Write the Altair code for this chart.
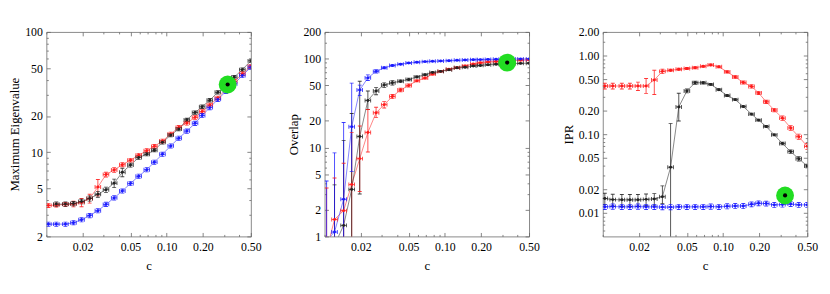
import altair as alt
import pandas as pd

# ---------------- data ----------------
c_vals = [0.0104, 0.0121, 0.0144, 0.0168, 0.0196, 0.0229, 0.0268, 0.0313, 0.0366, 0.0428,
          0.0500, 0.0585, 0.0683, 0.0789, 0.0922, 0.108, 0.126, 0.147, 0.172, 0.197,
          0.228, 0.266, 0.311, 0.364, 0.425, 0.500]

# Panel 1: Maximum Eigenvalue
eig_red = [3.62, 3.64, 3.69, 3.72, 3.83, 4.13, 5.14, 6.53, 7.13, 7.88, 8.60, 9.45, 10.3, 11.2,
           12.4, 14.2, 16.1, 17.5, 19.5, 21.8, 24.7, 28.3, 33.3, 38.8, 44.8, 51.8]
eig_red_err = [0.14, 0.14, 0.14, 0.2, 0.3, 0.35, 0.8, 0.3, 0.3, 0.3, 0.3, 0.35, 0.4, 0.4,
               0.45, 0.5, 0.6, 0.7, 0.75, 0.8, 0.9, 1.0, 1.2, 1.4, 1.7, 2.0]
eig_black = [None, 3.71, 3.71, 3.75, 3.90, 4.13, 4.48, 4.89, 5.54, 6.82, 7.83, 9.04, 9.63, 10.4,
             12.1, 13.9, 15.6, 18.6, 21.4, 23.9, 27.1, 31.5, 36.0, 42.1, 48.6, 57.5]
eig_black_err = [None, 0.15, 0.15, 0.15, 0.17, 0.2, 0.25, 0.25, 0.45, 0.55, 0.3, 0.3, 0.3, 0.3,
                 0.4, 0.45, 0.5, 0.6, 0.7, 0.8, 0.9, 1.0, 1.2, 1.4, 1.6, 1.9]
eig_blue = [2.53, 2.53, 2.53, 2.60, 2.75, 2.98, 3.27, 3.69, 4.18, 4.77, 5.51, 6.33, 7.17, 8.28,
            9.63, 11.3, 13.1, 15.0, 17.4, 20.2, 23.5, 27.5, 32.1, 37.1, 43.4, 50.8]
eig_blue_err = [0.10, 0.10, 0.10, 0.10, 0.11, 0.12, 0.13, 0.15, 0.17, 0.19, 0.22, 0.25, 0.29, 0.33,
                0.38, 0.45, 0.52, 0.6, 0.7, 0.8, 0.94, 1.1, 1.3, 1.5, 1.7, 2.0]

# Panel 2: Overlap
ov_red = [0.7, 1.55, 1.95, 3.83, 7.5, 14.8, 24.6, 30.4, 37.5, 44.4, 50.0, 56.3, 60.5, 67.0,
          72.0, 76.0, 79.0, 83.0, 87.0, 90.0, 92.0, 93.0, 94.0, 95.0, 96.0, 96.5]
ov_red_up = [2.8, 3.0, 4.7, 11.0, 10.0, 12.0, 3.8, 2.5, 2.0, 2.0, 2.0, 1.5, 1.5, 1.5,
             1.5, 1.5, 1.5, 1.5, 1.5, 1.5, 1.5, 1.5, 1.5, 1.5, 1.5, 1.5]
ov_red_dn = [0.7, 1.5, 1.9, 3.8, 4.3, 5.9, 2.9, 2.5, 2.0, 2.0, 2.0, 1.5, 1.5, 1.5,
             1.5, 1.5, 1.5, 1.5, 1.5, 1.5, 1.5, 1.5, 1.5, 1.5, 1.5, 1.5]
ov_black = [None, 0.8, 1.33, 3.38, 13.3, 33.9, 43.3, 50.5, 53.5, 55.8, 58.4, 62.3, 66.0, 70.0,
            72.0, 75.0, 78.9, 80.0, 82.6, 84.0, 85.5, 86.7, 88.0, 88.0, 88.5, 89.0]
ov_black_up = [None, 3.0, 10.7, 20.8, 42.5, 9.4, 4.0, 3.0, 3.0, 2.0, 2.0, 1.5, 1.5, 1.5,
               1.2, 1.2, 1.2, 1.2, 1.2, 1.2, 1.2, 1.2, 1.2, 1.2, 1.2, 1.2]
ov_black_dn = [None, 0.8, 1.33, 3.38, 10.3, 7.1, 4.0, 3.0, 3.0, 2.0, 2.0, 1.5, 1.5, 1.5,
               1.2, 1.2, 1.2, 1.2, 1.2, 1.2, 1.2, 1.2, 1.2, 1.2, 1.2, 1.2]
ov_blue = [0.9, 1.12, 2.62, 17.1, 44.4, 60.8, 72.0, 78.9, 83.8, 86.7, 89.5, 91.0, 92.7, 93.4,
           94.2, 95.0, 95.8, 96.6, 97.4, 97.6, 98.2, 98.4, 99.0, 99.0, 99.2, 99.2]
ov_blue_up = [3.3, 7.6, 16.5, 36.0, 6.0, 5.0, 3.0, 2.0, 1.5, 1.5, 1.2, 1.2, 1.0, 1.0,
              1.0, 1.0, 1.0, 1.0, 1.0, 1.0, 1.0, 1.0, 1.0, 1.0, 1.0, 1.0]
ov_blue_dn = [0.9, 1.12, 2.5, 11.7, 6.0, 4.0, 3.0, 2.0, 1.5, 1.5, 1.2, 1.2, 1.0, 1.0,
              1.0, 1.0, 1.0, 1.0, 1.0, 1.0, 1.0, 1.0, 1.0, 1.0, 1.0, 1.0]

# Panel 3: IPR
ipr_red = [0.41, 0.41, 0.41, 0.41, 0.41, 0.41, 0.49, 0.63, 0.65, 0.67, 0.685, 0.70, 0.73, 0.76,
           0.72, 0.62, 0.534, 0.455, 0.405, 0.335, 0.258, 0.203, 0.16, 0.12, 0.093, 0.070]
ipr_red_up = [0.035, 0.035, 0.035, 0.035, 0.05, 0.10, 0.16, 0.04, 0.02, 0.02, 0.02, 0.02, 0.02, 0.02,
              0.02, 0.02, 0.02, 0.02, 0.02, 0.015, 0.012, 0.01, 0.01, 0.008, 0.007, 0.006]
ipr_red_dn = [0.035, 0.035, 0.035, 0.035, 0.05, 0.08, 0.17, 0.04, 0.02, 0.02, 0.02, 0.02, 0.02, 0.02,
              0.02, 0.02, 0.02, 0.02, 0.02, 0.015, 0.012, 0.01, 0.01, 0.008, 0.007, 0.006]
ipr_black = [0.0152, 0.0147, 0.0146, 0.0146, 0.0146, 0.0148, 0.0150, 0.0160, 0.038, 0.222, 0.355,
             0.452, 0.450, 0.430, 0.368, 0.310, 0.275, 0.225, 0.180, 0.151, 0.125, 0.098, 0.076,
             0.060, 0.0486, 0.0394]
ipr_black_up = [0.0025, 0.0025, 0.0025, 0.0025, 0.0025, 0.0025, 0.0025, 0.006, 0.099, 0.11, 0.02,
                0.02, 0.015, 0.012, 0.01, 0.008, 0.008, 0.006, 0.005, 0.004, 0.004, 0.003, 0.003,
                0.003, 0.003, 0.002]
ipr_black_dn = [0.0025, 0.0025, 0.0025, 0.0025, 0.0025, 0.0025, 0.0025, 0.003, 0.037, 0.075, 0.02,
                0.02, 0.015, 0.012, 0.01, 0.008, 0.008, 0.006, 0.005, 0.004, 0.004, 0.003, 0.003,
                0.003, 0.003, 0.002]
ipr_blue = [0.0119, 0.0120, 0.0119, 0.0119, 0.0120, 0.0119, 0.0119, 0.0118, 0.0118, 0.0119, 0.0119,
            0.0119, 0.0119, 0.0120, 0.0119, 0.0121, 0.0122, 0.0122, 0.0128, 0.0132, 0.0131, 0.0126,
            0.0127, 0.0129, 0.0126, 0.0126]
ipr_blue_err = [0.0009] * 26

# highlighted point (green disc with black dot)
green_c = [0.321, 0.329, 0.327]
green_v = [36.6, 90.4, 0.0166]

x_major = [0.02, 0.05, 0.1, 0.2, 0.5]
x_minor = [0.01, 0.03, 0.04, 0.06, 0.07, 0.08, 0.09, 0.3, 0.4]

SER = ["red", "black", "blue"]
COLORS = ["#ff1a1a", "#222222", "#1a1aff"]
XERR = 1.055
FONT = "Liberation Serif"


def build(vals, ups, dns, ymin):
    rows = []
    for s in SER:
        for c, v, u, d in zip(c_vals, vals[s], ups[s], dns[s]):
            if v is None:
                continue
            lo = v - d
            if lo <= ymin:
                lo = ymin * 0.5
            rows.append(dict(series=s, c=c, v=v, lo=lo, hi=v + u, clo=c / XERR, chi=c * XERR))
    return pd.DataFrame(rows)


def ax(orient, values, fmt=None, title=None, major=True, labels=True):
    size = 4 if major else 2
    lp = 5 if orient == "bottom" else 4
    kw = dict(orient=orient, values=values, tickSize=size, offset=-size, domain=False,
              grid=False, labels=labels, tickColor="#666666", tickWidth=0.8,
              labelFlush=False, labelOverlap=False, labelPadding=lp)
    if fmt:
        kw["format"] = fmt
    kw["title"] = title if title else None
    if title:
        kw["titlePadding"] = 8 if orient == "bottom" else 3
    return alt.Axis(**kw)


def panel(df, ydom, ymajor, yminor, yfmt, ytitle, gi):
    xs = alt.Scale(type="log", domain=[0.01, 0.5], nice=False)
    ys = alt.Scale(type="log", domain=ydom, nice=False)
    color = alt.Color("series:N", scale=alt.Scale(domain=SER, range=COLORS), legend=None)
    base = alt.Chart(df)

    line = base.mark_line(strokeWidth=0.9, opacity=0.6, clip=True).encode(
        x=alt.X("c:Q", scale=xs, axis=ax("bottom", x_major, ".2f", "c")),
        y=alt.Y("v:Q", scale=ys, axis=ax("left", ymajor, yfmt, ytitle)),
        color=color, order="c:Q")
    vbar = base.mark_rule(strokeWidth=0.9, opacity=0.85, clip=True).encode(
        x=alt.X("c:Q", scale=xs, axis=ax("bottom", x_minor, major=False, labels=False)),
        y=alt.Y("lo:Q", scale=ys, axis=ax("left", yminor, major=False, labels=False)),
        y2="hi:Q", color=color)
    hbar = base.mark_rule(strokeWidth=0.9, opacity=0.85, clip=True).encode(
        x=alt.X("clo:Q", scale=xs, axis=ax("top", x_minor, major=False, labels=False)),
        x2="chi:Q",
        y=alt.Y("v:Q", scale=ys, axis=ax("right", yminor, major=False, labels=False)),
        color=color)
    cap_lo = base.mark_tick(orient="horizontal", size=4, thickness=0.9, opacity=0.85, clip=True).encode(
        x=alt.X("c:Q", scale=xs, axis=None), y=alt.Y("lo:Q", scale=ys, axis=None), color=color)
    cap_hi = base.mark_tick(orient="horizontal", size=4, thickness=0.9, opacity=0.85, clip=True).encode(
        x=alt.X("c:Q", scale=xs, axis=None), y=alt.Y("hi:Q", scale=ys, axis=None), color=color)
    cap_l = base.mark_tick(orient="vertical", size=4, thickness=0.9, opacity=0.85, clip=True).encode(
        x=alt.X("clo:Q", scale=xs, axis=None), y=alt.Y("v:Q", scale=ys, axis=None), color=color)
    cap_r = base.mark_tick(orient="vertical", size=4, thickness=0.9, opacity=0.85, clip=True).encode(
        x=alt.X("chi:Q", scale=xs, axis=None), y=alt.Y("v:Q", scale=ys, axis=None), color=color)
    pts = base.mark_circle(size=9, opacity=1, clip=True).encode(
        x=alt.X("c:Q", scale=xs, axis=ax("top", x_major, labels=False)),
        y=alt.Y("v:Q", scale=ys, axis=ax("right", ymajor, labels=False)),
        color=color)

    gdf = pd.DataFrame({"c": [green_c[gi]], "v": [green_v[gi]]})
    g = alt.Chart(gdf).mark_circle(size=330, color="#22dd22", opacity=1).encode(
        x=alt.X("c:Q", scale=xs, axis=None), y=alt.Y("v:Q", scale=ys, axis=None))
    gd = alt.Chart(gdf).mark_circle(size=18, color="#000000", opacity=1).encode(
        x=alt.X("c:Q", scale=xs, axis=None), y=alt.Y("v:Q", scale=ys, axis=None))

    return alt.layer(line, vbar, hbar, cap_lo, cap_hi, cap_l, cap_r, pts, g, gd).resolve_axis(
        x="independent", y="independent").properties(width=208, height=208)


df1 = build({"red": eig_red, "black": eig_black, "blue": eig_blue},
            {"red": eig_red_err, "black": eig_black_err, "blue": eig_blue_err},
            {"red": eig_red_err, "black": eig_black_err, "blue": eig_blue_err}, 2)
df2 = build({"red": ov_red, "black": ov_black, "blue": ov_blue},
            {"red": ov_red_up, "black": ov_black_up, "blue": ov_blue_up},
            {"red": ov_red_dn, "black": ov_black_dn, "blue": ov_blue_dn}, 1)
df3 = build({"red": ipr_red, "black": ipr_black, "blue": ipr_blue},
            {"red": ipr_red_up, "black": ipr_black_up, "blue": ipr_blue_err},
            {"red": ipr_red_dn, "black": ipr_black_dn, "blue": ipr_blue_err}, 0.005)

p1 = panel(df1, [2, 100], [2, 5, 10, 20, 50, 100], [3, 4, 6, 7, 8, 9, 30, 40, 60, 70, 80, 90],
           "d", "Maximum Eigenvalue", 0)
p2 = panel(df2, [1, 200], [1, 2, 5, 10, 20, 50, 100, 200],
           [3, 4, 6, 7, 8, 9, 30, 40, 60, 70, 80, 90, 150], "d", "Overlap", 1)
p3 = panel(df3, [0.005, 2], [0.01, 0.02, 0.05, 0.1, 0.2, 0.5, 1, 2],
           [0.006, 0.007, 0.008, 0.009, 0.03, 0.04, 0.06, 0.07, 0.08, 0.09, 0.3, 0.4, 0.6, 0.7,
            0.8, 0.9, 1.5], ".2f", "IPR", 2)

chart = alt.hconcat(p1, p2, p3, spacing=75, bounds="flush").properties(
    padding={"left": 0, "top": 15, "right": 4, "bottom": 4}
).configure_view(stroke="#888888", strokeWidth=1).configure_axis(
    labelFont=FONT, titleFont=FONT, labelFontSize=12, titleFontSize=13,
    titleFontWeight="normal", labelColor="#000000", titleColor="#000000"
)

chart.save("out.html", embed_options={"renderer": "svg", "actions": False})
